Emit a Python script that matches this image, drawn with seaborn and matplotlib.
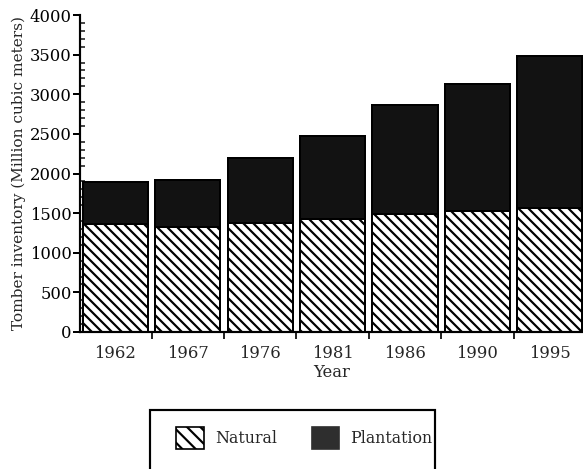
import numpy as np
import pandas as pd
import matplotlib
matplotlib.use('Agg')
import matplotlib.pyplot as plt
import seaborn as sns
from matplotlib.patches import Patch, Rectangle
from matplotlib.ticker import MultipleLocator, FixedLocator

# --- Data ---
years = ['1962', '1967', '1976', '1981', '1986', '1990', '1995']
natural = [1360, 1325, 1370, 1425, 1490, 1525, 1570]
plantation = [535, 590, 830, 1050, 1370, 1605, 1910]

df = pd.DataFrame({'Year': years, 'Natural': natural, 'Plantation': plantation})
df['Total'] = df['Natural'] + df['Plantation']

sns.set_style('ticks')
plt.rcParams['font.family'] = ['DejaVu Serif']
plt.rcParams['hatch.linewidth'] = 1.3
plt.rcParams['hatch.color'] = 'black'

DPI = 120
fig = plt.figure(figsize=(583 / DPI, 469 / DPI), dpi=DPI)
ax = fig.add_axes([80 / 583, 137 / 469, 1 - 80 / 583, 317 / 469])

dark = '#121212'
# total first (plantation on top), natural drawn over it
sns.barplot(data=df, x='Year', y='Total', order=years, color=dark,
            width=0.9, edgecolor='black', linewidth=1.2, saturation=1, ax=ax)
n_before = len(ax.patches)
sns.barplot(data=df, x='Year', y='Natural', order=years, color='white',
            width=0.9, edgecolor='black', linewidth=1.2, saturation=1, ax=ax)
for p in ax.patches[n_before:]:
    p.set_hatch('\\\\\\\\')

ax.set_xlim(-0.49, 6.46)
ax.set_ylim(0, 4000)
ax.yaxis.set_major_locator(MultipleLocator(500))
ax.yaxis.set_minor_locator(MultipleLocator(100))
ax.xaxis.set_minor_locator(FixedLocator(np.arange(-0.5, 7, 1.0)))

sns.despine(ax=ax)
for s in ['left', 'bottom']:
    ax.spines[s].set_linewidth(1.3)
    ax.spines[s].set_color('black')

ax.tick_params(axis='y', which='major', direction='out', length=4, width=1.2,
               labelsize=9.8, pad=1, colors='black')
ax.tick_params(axis='y', which='minor', direction='in', length=3, width=1)
ax.tick_params(axis='x', which='major', length=0, labelsize=9.8, pad=8)
ax.tick_params(axis='x', which='minor', direction='out', length=4, width=1.2)

ax.set_xlabel('Year', fontsize=9.8, labelpad=1)
ax.set_ylabel('Tomber inventory (Million cubic meters)', fontsize=9.2, labelpad=2)

# legend (box runs off the bottom of the figure, as in the reference)
frame = Rectangle((150 / 583, -0.05), (435 - 150) / 583, (1 - 410 / 469) + 0.05,
                  transform=fig.transFigure, facecolor='white', edgecolor='black',
                  linewidth=1.3)
fig.patches.append(frame)
handles = [Patch(facecolor='white', edgecolor='black', hatch='\\\\\\', linewidth=1, label='Natural'),
           Patch(facecolor='#2e2e2e', edgecolor='#2e2e2e', label='Plantation')]
fig.legend(handles=handles, loc='center left', bbox_to_anchor=(168 / 583, 1 - 438 / 469),
           ncol=2, frameon=False, fontsize=9.5, borderpad=0, handlelength=1.75,
           handleheight=1.75, handletextpad=0.7, columnspacing=2.2)

fig.savefig('out.png', dpi=DPI)
